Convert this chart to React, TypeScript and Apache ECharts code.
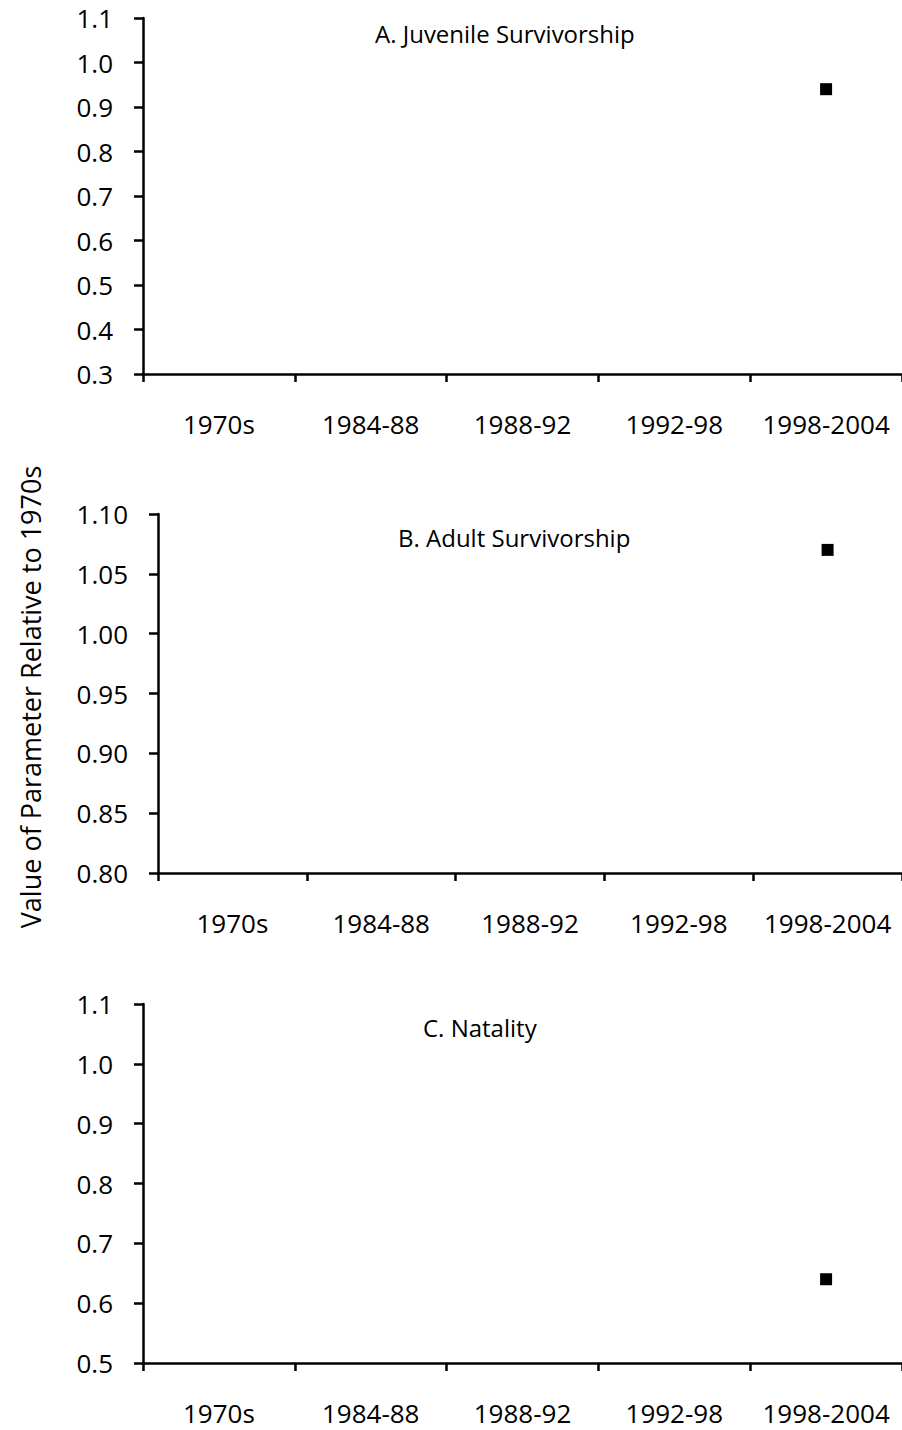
import React, { useEffect, useRef } from "react";
import * as echarts from "echarts";

const periods = ["1970s", "1984-88", "1988-92", "1992-98", "1998-2004"];
const juvenile = ["-", "-", "-", "-", 0.94];
const adult = ["-", "-", "-", "-", 1.07];
const natality = ["-", "-", "-", "-", 0.64];
const panelTitles = ["A. Juvenile Survivorship", "B. Adult Survivorship", "C. Natality"];
const yMins = [0.3, 0.8, 0.5];
const yMaxs = [1.1, 1.1, 1.1];
const yIntervals = [0.1, 0.05, 0.1];
const yDecimals = [1, 2, 1];
const yTitle = "Value of Parameter Relative to 1970s";

const FONT = "Open Sans";

export default function App() {
  const ref = useRef<HTMLDivElement>(null);
  useEffect(() => {
    document.body.style.margin = "0";
    const chart = echarts.init(ref.current!, null, { renderer: "svg" });
    const grids = [
      { left: 143, top: 18, height: 356, width: 767 },
      { left: 158, top: 514, height: 359, width: 754 },
      { left: 143, top: 1004, height: 359, width: 767 },
    ];
    const seriesData = [juvenile, adult, natality];
    const titleLeft = [370, 393, 418];
    const titleTop = [16, 520, 1010];
    const axisLine = { show: true, lineStyle: { color: "#000", width: 2.5 } };
    chart.setOption({
      animation: false,
      backgroundColor: "#fff",
      grid: grids,
      title: panelTitles.map((t, i) => ({
        text: t,
        left: titleLeft[i],
        top: titleTop[i],
        textStyle: { fontFamily: FONT, fontSize: 24, fontWeight: "normal", color: "#000" },
      })),
      xAxis: grids.map((_, i) => ({
        type: "category",
        gridIndex: i,
        data: periods,
        boundaryGap: true,
        axisLine,
        axisTick: { show: true, length: 8, lineStyle: { color: "#000", width: 2.5 } },
        axisLabel: { fontFamily: FONT, fontSize: 26, color: "#000", margin: 37, interval: 0 },
        splitLine: { show: false },
      })),
      yAxis: grids.map((_, i) => ({
        type: "value",
        gridIndex: i,
        min: yMins[i],
        max: yMaxs[i],
        interval: yIntervals[i],
        axisLine,
        axisTick: { show: true, length: 9, lineStyle: { color: "#000", width: 2.5 } },
        axisLabel: {
          fontFamily: FONT,
          fontSize: 26,
          color: "#000",
          margin: 30,
          formatter: (v: number) => v.toFixed(yDecimals[i]),
        },
        splitLine: { show: false },
      })),
      series: seriesData.map((d, i) => ({
        type: "scatter",
        xAxisIndex: i,
        yAxisIndex: i,
        data: d,
        symbol: "rect",
        symbolSize: 12,
        itemStyle: { color: "#000", opacity: 1 },
      })),
      graphic: [
        {
          type: "text",
          x: 30,
          y: 697,
          rotation: Math.PI / 2,
          style: {
            text: yTitle,
            fontFamily: FONT,
            fontSize: 27,
            fill: "#000",
            align: "center",
            verticalAlign: "middle",
          },
        },
      ],
    });
    return () => chart.dispose();
  }, []);
  return <div ref={ref} style={{ width: 902, height: 1430 }} />;
}
